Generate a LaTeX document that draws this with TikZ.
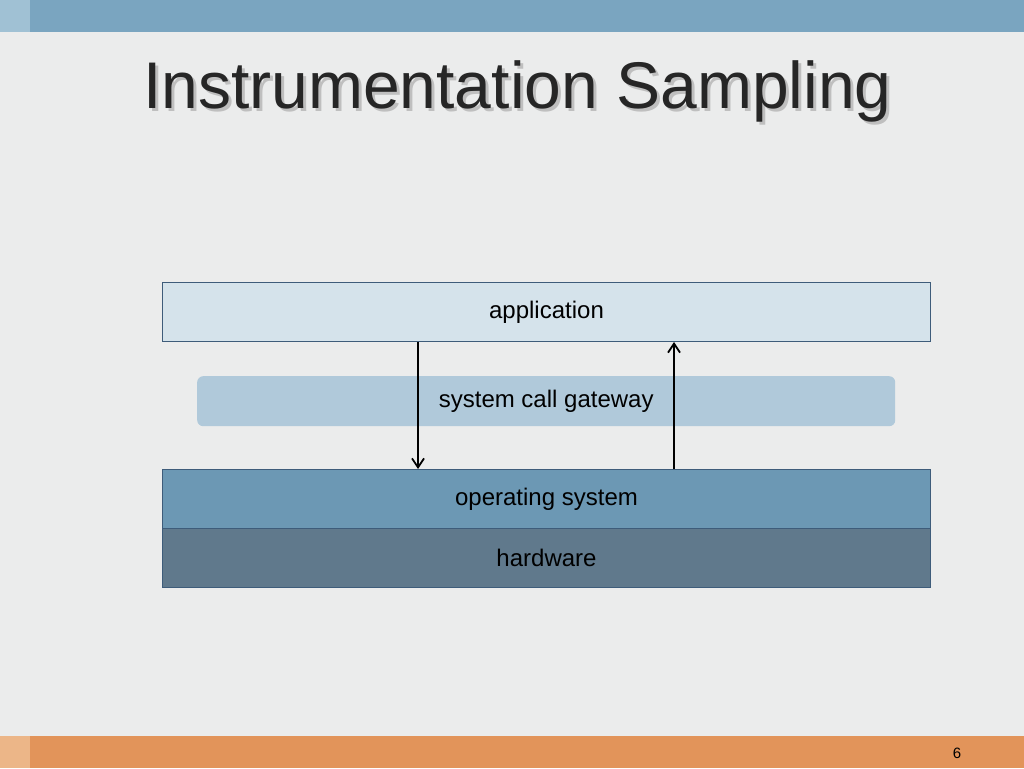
\documentclass[tikz,border=0pt]{standalone}
\usepackage{fontspec}
\setmainfont{Liberation Sans}
\usetikzlibrary{arrows.meta}
\definecolor{BG}{RGB}{235,236,236}
\definecolor{TopBar}{RGB}{122,165,192}
\definecolor{TopTip}{RGB}{160,193,212}
\definecolor{BotBar}{RGB}{226,148,90}
\definecolor{BotTip}{RGB}{236,182,136}
\definecolor{AppFill}{RGB}{213,227,235}
\definecolor{GateFill}{RGB}{176,201,218}
\definecolor{OSFill}{RGB}{108,152,180}
\definecolor{HWFill}{RGB}{96,121,140}
\definecolor{Edge}{RGB}{62,92,122}
\tikzset{
  layer/.style={draw=Edge,line width=1pt,minimum width=768pt,minimum height=59pt,anchor=north west,font=\fontsize{24}{28}\selectfont},
  callarrow/.style={-{Straight Barb[length=9pt,width=12pt,line width=1.8pt]},line width=1.8pt}
}
\begin{document}
\begin{tikzpicture}[x=1pt,y=-1pt]
  \useasboundingbox (0,0) rectangle (1024,768);
  \fill[BG] (0,0) rectangle (1024,768);
  \fill[TopBar] (0,0) rectangle (1024,32);
  \fill[TopTip] (0,0) rectangle (30,32);
  \fill[BotBar] (0,736) rectangle (1024,768);
  \fill[BotTip] (0,736) rectangle (30,768);
  \node[font=\fontsize{15}{18}\selectfont] (page) at (957,753) {6};

  % title with shadow
  \node[anchor=base west,inner sep=0pt,text=gray!50,font=\fontsize{66}{74}\selectfont] (shade) at (146,111) {Instrumentation Sampling};
  \node[anchor=base west,inner sep=0pt,text=black!85,font=\fontsize{66}{74}\selectfont] (title) at (143,108) {Instrumentation Sampling};

  \node[layer,fill=AppFill] (app) at (162,282) {application};
  \node[fill=GateFill,rounded corners=6pt,minimum width=698pt,minimum height=50pt,anchor=north west,font=\fontsize{24}{28}\selectfont] (gate) at (197,376) {system call gateway};
  \node[layer,fill=OSFill] (os) at (162,469) {operating system};
  \node[layer,fill=HWFill] (hw) at (162,528) {hardware};

  \coordinate (down) at (418,0);
  \coordinate (up) at (674,0);
  \draw[callarrow] (app.south -| down) -- (os.north -| down);
  \draw[callarrow] (os.north -| up) -- (app.south -| up);
\end{tikzpicture}
\end{document}
